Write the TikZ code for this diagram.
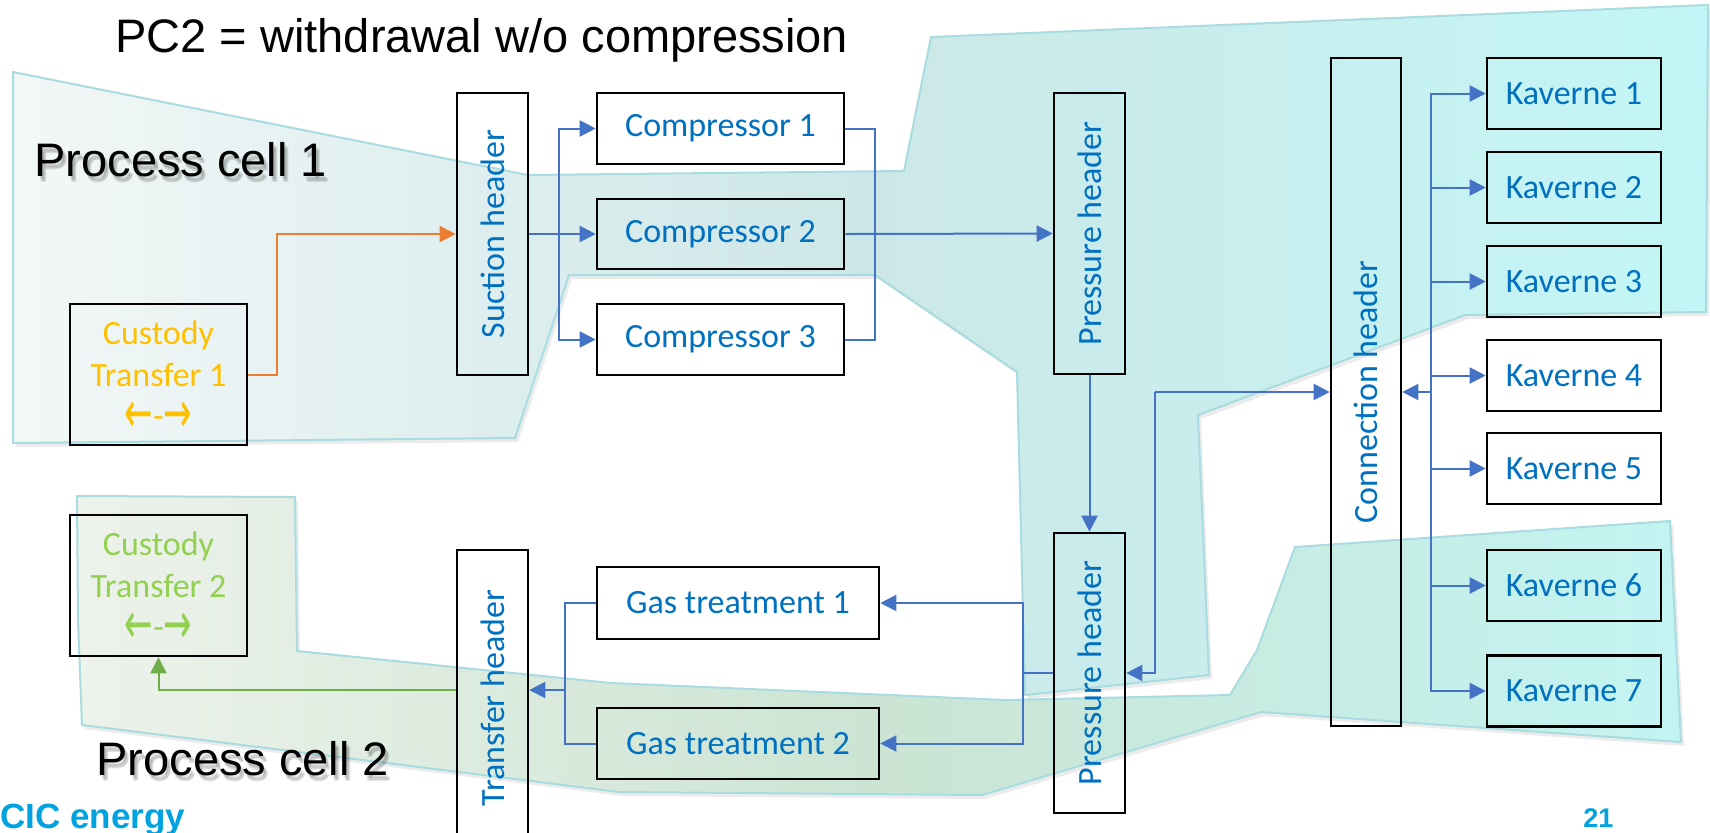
\documentclass[tikz,border=0pt]{standalone}
\usepackage{fontspec}
\usepackage{graphicx}
\setmainfont{Liberation Sans}
\newfontfamily\calib{Carlito}
\newfontfamily\arrowfont{DejaVu Sans}
\usetikzlibrary{arrows.meta}

\definecolor{boxblue}{HTML}{0070C0}
\definecolor{linkblue}{HTML}{4472C4}
\definecolor{feedorange}{HTML}{ED7D31}
\definecolor{feedgreen}{HTML}{70AD47}
\definecolor{ctone}{HTML}{FFC000}
\definecolor{cttwo}{HTML}{92D050}
\definecolor{cicblue}{HTML}{00A3E0}
\definecolor{celledge}{HTML}{A8DCE0}
\definecolor{cellL}{HTML}{F3F7F7}
\definecolor{cellM}{HTML}{CDE7E7}
\definecolor{cellR}{HTML}{C3F6F6}
\definecolor{greenL}{HTML}{EDF2EA}
\definecolor{greenM}{HTML}{CBE4D3}
\definecolor{greenR}{HTML}{C3F4F2}

% outlines of the two process cells (units are pixels, y pointing down)
\def\cellonepath{(13,72) -- (528,175) -- (904,171) -- (931,37) -- (1708,5) -- (1706,312) -- (1465,315) -- (1198,415) -- (1209,675) -- (1025,695) -- (1017,372) -- (875,275) -- (569,275) -- (515,438) -- (13,443) -- cycle}
\def\celltwopath{(77,496) -- (295,497) -- (297,651) -- (611,683) -- (1005,700) -- (1230,695) -- (1257,650) -- (1295,547) -- (1670,521) -- (1681,742) -- (1261,712) -- (982,795) -- (619,792) -- (82,725) -- (78,620) -- cycle}

% the two-way arrow sign of a custody transfer point
\newcommand\bigarrow[1]{\smash{\raisebox{-2.5pt}{\arrowfont\scalebox{1}[1.7]{#1}}}}
\newcommand\twoway{\bigarrow{←}-\bigarrow{→}}

\begin{document}
\begin{tikzpicture}[x=0.5pt,y=-0.5pt,
  unit/.style={draw=black, line width=1.3pt, inner sep=0pt, align=center,
    font=\calib\fontsize{17}{20.75}\selectfont, text=boxblue},
  wh/.style 2 args={minimum width=#1*0.5pt, minimum height=#2*0.5pt},
  pipe/.style={color=linkblue, line width=1pt},
  flow/.style={pipe, -{Triangle[length=8pt,width=8pt]}},
  bigtext/.style={anchor=base west, inner sep=0pt, font=\fontsize{23.5}{28}\selectfont},
  softshadow/.style={bigtext, text=black, opacity=0.1},
  cellshadow/.style={fill=black, opacity=0.08, xshift=1.5pt, yshift=-2pt},
]
\useasboundingbox (0,0) rectangle (1710,832);

% process cells
\fill[cellshadow] \cellonepath;
\path[draw=celledge, line width=1pt, left color=cellL, right color=cellR, middle color=cellM] \cellonepath;
\fill[cellshadow] \celltwopath;
\path[draw=celledge, line width=1pt, left color=greenL, right color=greenR, middle color=greenM] \celltwopath;

% headings
\node[bigtext] (title) at (115,52) {PC2 = withdrawal w/o compression};
\foreach \dx/\dy [count=\n] in {2/3,4/5,3/6}{
  \node[softshadow] (pconeshadow\n) at (34+\dx,176+\dy) {Process cell 1};
  \node[softshadow] (pctwoshadow\n) at (96+\dx,775+\dy) {Process cell 2};
}
\node[bigtext] (pcone) at (34,176) {Process cell 1};
\node[bigtext] (pctwo) at (96,775) {Process cell 2};
\node[anchor=base west, inner sep=0pt, text=cicblue, font=\bfseries\fontsize{17.5}{20}\selectfont] (cic) at (0,828) {CIC energy};
\node[anchor=base west, inner sep=0pt, text=cicblue, font=\bfseries\fontsize{13.5}{16}\selectfont] (pageno) at (1583,827) {21};

% units
\node[unit, wh={177}{141}, text=ctone] (ct1) at (158.5,374.5) {Custody\\Transfer 1\\\twoway};
\node[unit, wh={177}{141}, text=cttwo] (ct2) at (158.5,585.5) {Custody\\Transfer 2\\\twoway};
\node[unit, wh={71}{282}] (suc) at (492.5,234) {\rotatebox{90}{Suction header}};
\node[unit, wh={247}{71}] (c1) at (720.5,128.5) {Compressor 1};
\node[unit, wh={247}{70}] (c2) at (720.5,234) {Compressor 2};
\node[unit, wh={247}{71}] (c3) at (720.5,339.5) {Compressor 3};
\node[unit, wh={71}{281}] (ph1) at (1089.5,233.5) {\rotatebox{90}{Pressure header}};
\node[unit, wh={70}{668}] (conn) at (1366,392) {\rotatebox{90}{Connection header}};
\foreach \i/\y in {1/93.5,2/187.5,3/281.5,4/375.5,5/468.5,6/585.5,7/691}
  \node[unit, wh={174}{71}] (k\i) at (1574,\y) {Kaverne \i};
\node[unit, wh={71}{296}] (th) at (492.5,698) {\rotatebox{90}{Transfer header}};
\node[unit, wh={282}{72}] (gt1) at (738,603) {Gas treatment 1};
\node[unit, wh={282}{71}] (gt2) at (738,743.5) {Gas treatment 2};
\node[unit, wh={71}{280}] (ph2) at (1089.5,673) {\rotatebox{90}{Pressure header}};

% branch points
\coordinate (ob) at (277,374.5);
\coordinate (sj) at (559,234);
\coordinate (cm) at (875,339.5);
\coordinate (kt) at (1431,392);
\coordinate (lj) at (1155,392);
\coordinate (gs) at (1023,673);
\coordinate (gm) at (565,690);

% compression train
\draw[flow, color=feedorange] (ct1.east) -- (ob) |- (suc.west);
\draw[flow] (suc.east) -- (c2.west);
\draw[flow] (sj) |- (c1.west);
\draw[flow] (sj) |- (c3.west);
\draw[pipe] (c1.east) -| (cm) -- (c3.east);
\draw[flow] (c2.east) -- (ph1.west);
\draw[flow] (ph1.south) -- (ph2.north);

% caverns
\foreach \i in {1,...,7}
  \draw[flow] (kt) |- (k\i.west);
\draw[flow] (kt) -- (conn.east);
\draw[flow] (lj) -- (conn.west);
\draw[flow] (lj) |- (ph2.east);

% withdrawal train
\draw[pipe] (ph2.west) -- (gs);
\draw[flow] (gs) |- (gt1.east);
\draw[flow] (gs) |- (gt2.east);
\draw[pipe] (gt1.west) -| (gm);
\draw[pipe] (gt2.west) -| (gm);
\draw[flow] (gm) -- (gm -| th.east);
\draw[flow, color=feedgreen] (gm -| th.west) -| (ct2.south);
\end{tikzpicture}
\end{document}
